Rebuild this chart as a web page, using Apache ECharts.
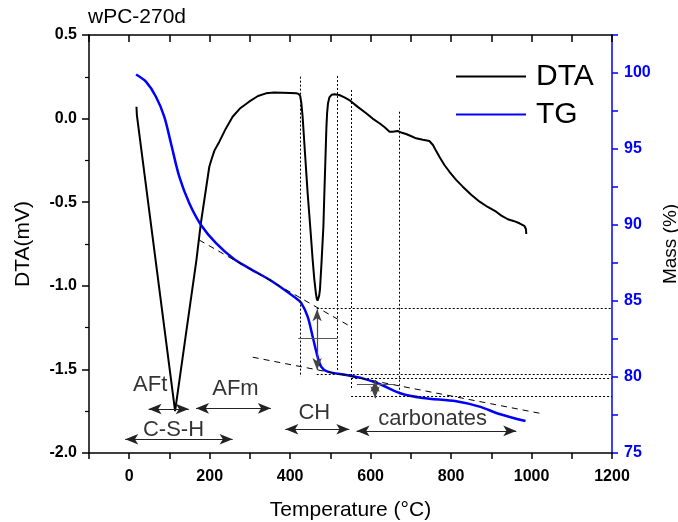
<!DOCTYPE html>
<html><head><meta charset="utf-8">
<script src="https://cdn.jsdelivr.net/npm/echarts@6/dist/echarts.min.js"></script>
<style>html,body{margin:0;padding:0;background:#fff}#c{width:678px;height:522px}</style>
</head><body><div id="c"></div>
<script>
// ---- data ----
const dtaT = [18, 19, 114, 140, 167, 178, 190, 199, 205, 212, 224, 240, 257, 275, 298, 320, 340, 360, 380, 400, 415, 421, 425, 428, 431, 437, 443.5, 450, 456, 460, 464, 466, 468, 470, 472, 474, 478, 482.6, 485, 487.6, 490, 491.8, 494, 497.5, 503, 510, 522, 535, 547, 568, 589, 605, 622, 635, 647, 655, 667, 678, 688, 700, 713, 730, 746, 750, 755, 762, 771, 783, 796, 812, 829, 850, 871, 890, 912, 925, 941, 955, 970, 982, 986, 987];
const dtaV = [0.071, 0.021, -1.749, -1.306, -0.846, -0.626, -0.433, -0.288, -0.24, -0.19, -0.138, -0.06, 0.011, 0.06, 0.101, 0.135, 0.151, 0.156, 0.155, 0.153, 0.151, 0.148, 0.135, 0.09, 0.011, -0.21, -0.447, -0.65, -0.846, -0.96, -1.045, -1.075, -1.089, -1.085, -1.06, -1.025, -0.86, -0.647, -0.45, -0.248, -0.06, 0.032, 0.09, 0.127, 0.142, 0.145, 0.141, 0.127, 0.111, 0.07, 0.032, 0.0, -0.028, -0.052, -0.078, -0.078, -0.074, -0.085, -0.092, -0.104, -0.118, -0.127, -0.134, -0.142, -0.158, -0.19, -0.228, -0.276, -0.318, -0.365, -0.407, -0.455, -0.497, -0.527, -0.557, -0.58, -0.602, -0.612, -0.626, -0.641, -0.66, -0.69];
const tgT = [17, 41.5, 66.4, 87, 103.7, 124.4, 149.3, 178.4, 215.7, 261, 298.5, 356.5, 414.7, 427, 443.5, 456, 466, 477, 493.3, 539, 580, 622, 671.6, 729.6, 812.7, 870.6, 920, 985];
const tgM = [99.9, 99.43, 98.44, 97.13, 95.38, 93.18, 91.43, 90.0, 88.8, 87.74, 87.15, 86.27, 85.18, 84.89, 83.97, 82.65, 81.56, 80.68, 80.35, 80.13, 79.91, 79.54, 78.95, 78.62, 78.4, 78.05, 77.57, 77.1];

// x tick labels shown
const xTickLabels = [0, 200, 400, 600, 800, 1000, 1200];

// annotation texts and arrows (DTA coordinates)
const labelText = ['AFt', 'AFm', 'C-S-H', 'CH', 'carbonates'];
const labelT = [52, 264, 110, 460, 754];
const labelV = [-1.593, -1.617, -1.862, -1.761, -1.797];
const arrowT0 = [48, 166, -10, 388, 565];
const arrowT1 = [148, 352, 257, 547, 962];
const arrowV = [-1.737, -1.733, -1.918, -1.858, -1.868];

// vertical dotted guide lines (DTA coordinates)
const vlineT = [424.6, 516.2, 551.5, 670.4];
const vlineTop = [0.251, 0.255, 0.171, 0.041];
const vlineBot = [-1.544, -1.514, -1.623, -1.665];

// horizontal dotted guide lines (TG coordinates)
const hlineM = [84.54, 80.17, 79.9, 78.72];
const hlineT0 = [466, 466, 551.5, 551.5];
const hlineT1 = [1200, 1200, 1200, 1200];

// dashed tangents (TG coordinates)
const tanT0 = [174, 307], tanM0 = [89.01, 81.3];
const tanT1 = [551.5, 1021], tanM1 = [83.3, 77.61];

// step markers (TG coordinates)
const stepT = [467, 611], stepTop = [84.45, 79.8], stepBot = [80.46, 78.6];
const midM = [82.55, 79.54], midT0 = [420, 566], midT1 = [518, 661];

const FONT = '"Liberation Sans", Arial, sans-serif';

const zip = (a, b) => a.map((v, i) => [v, b[i]]);

const dtaLines = [];
vlineT.forEach((t, i) => dtaLines.push([{coord: [t, vlineTop[i]]}, {coord: [t, vlineBot[i]]}]));

const tgDotted = [];
hlineM.forEach((m, i) => tgDotted.push([{coord: [hlineT0[i], m]}, {coord: [hlineT1[i], m]}]));

const tgDashed = [];
tanT0.forEach((t, i) => tgDashed.push([{coord: [t, tanM0[i]]}, {coord: [tanT1[i], tanM1[i]]}]));

const stepArrows = [];
stepT.forEach((t, i) => stepArrows.push([{coord: [t, stepTop[i]]}, {coord: [t, stepBot[i]]}]));
const midLines = [];
midM.forEach((m, i) => midLines.push([{coord: [midT0[i], m]}, {coord: [midT1[i], m]}]));

const arrows = [];
arrowT0.forEach((t, i) => arrows.push([{coord: [t, arrowV[i]]}, {coord: [arrowT1[i], arrowV[i]]}]));

const chart = echarts.init(document.getElementById('c'), null, {renderer: 'canvas'});
chart.setOption({
  animation: false,
  backgroundColor: '#fff',
  title: {text: 'wPC-270d', left: 83, top: 2, textStyle: {fontFamily: FONT, fontSize: 21, fontWeight: 'normal', color: '#000'}},
  legend: {
    data: [{name: 'DTA', icon: 'rect'}, {name: 'TG', icon: 'rect'}], orient: 'vertical', left: 451, top: 54,
    itemWidth: 70, itemHeight: 2, itemGap: 3,
    textStyle: {fontFamily: FONT, fontSize: 30, color: '#000', lineHeight: 35, padding: [0, 0, 0, 5]}
  },
  grid: {left: 89, right: 66, top: 35, bottom: 69, outerBoundsMode: 'none', containLabel: false},
  xAxis: [{
    type: 'value', position: 'bottom', min: -100, max: 1200, interval: 100,
    axisLine: {show: true, onZero: false, lineStyle: {color: '#000', width: 1.5}},
    axisTick: {show: true, inside: false, length: 6, lineStyle: {color: '#000', width: 1.5}},
    axisLabel: {margin: 16, fontFamily: FONT, fontSize: 16, fontWeight: 'bold', color: '#000',
      formatter: v => xTickLabels.indexOf(v) >= 0 ? String(v) : ''},
    splitLine: {show: false},
    name: 'Temperature (°C)', nameLocation: 'middle', nameGap: 47,
    nameTextStyle: {fontFamily: FONT, fontSize: 21, color: '#000'}
  }, {
    type: 'value', position: 'top', min: -100, max: 1200, interval: 100,
    axisLine: {show: true, onZero: false, lineStyle: {color: '#000', width: 1.5}},
    axisTick: {show: true, inside: true, length: 7, lineStyle: {color: '#000', width: 1.5}},
    axisLabel: {show: false}, splitLine: {show: false}
  }],
  yAxis: [{
    type: 'value', position: 'left', min: -2, max: 0.5, interval: 0.5,
    axisLine: {show: true, onZero: false, lineStyle: {color: '#000', width: 1.5}},
    axisTick: {show: true, inside: false, length: 7, lineStyle: {color: '#000', width: 1.5}},
    minorTick: {show: true, splitNumber: 2, length: 4, lineStyle: {color: '#000', width: 1.2}},
    axisLabel: {margin: 12, fontFamily: FONT, fontSize: 16, fontWeight: 'bold', color: '#000', formatter: v => v.toFixed(1)},
    splitLine: {show: false},
    name: 'DTA(mV)', nameLocation: 'middle', nameGap: 55,
    nameTextStyle: {fontFamily: FONT, fontSize: 21, color: '#000'}
  }, {
    type: 'value', position: 'right', min: 75, max: 102.5, interval: 2.5,
    axisLine: {show: true, onZero: false, lineStyle: {color: '#0000ff', width: 1.5}},
    axisTick: {show: true, inside: false, length: 6, lineStyle: {color: '#0000ff', width: 1.5}},
    axisLabel: {margin: 12, fontFamily: FONT, fontSize: 16, fontWeight: 'bold', color: '#0000ff',
      formatter: v => (Math.abs(v % 5) < 1e-6 ? String(v) : '')},
    splitLine: {show: false},
    name: 'Mass (%)', nameLocation: 'middle', nameGap: 45,
    nameTextStyle: {fontFamily: FONT, fontSize: 19, color: '#000'}
  }],
  series: [{
    name: 'DTA', type: 'line', xAxisIndex: 0, yAxisIndex: 0, data: zip(dtaT, dtaV),
    symbol: 'none', smooth: false, lineStyle: {color: '#000', width: 2}, itemStyle: {color: '#000'}, z: 3,
    markLine: {silent: true, symbol: 'none', label: {show: false}, lineStyle: {type: [2, 2], color: '#000', width: 1}, data: dtaLines}
  }, {
    name: 'TG', type: 'line', xAxisIndex: 0, yAxisIndex: 1, data: zip(tgT, tgM),
    symbol: 'none', smooth: 0.3, lineStyle: {color: '#0000ff', width: 2.5}, itemStyle: {color: '#0000ff'}, z: 4,
    markLine: {silent: true, symbol: 'none', label: {show: false}, lineStyle: {type: [2, 2], color: '#000', width: 1}, data: tgDotted}
  }, {
    name: 'tangents', type: 'line', xAxisIndex: 0, yAxisIndex: 1, data: [],
    markLine: {silent: true, symbol: 'none', label: {show: false}, lineStyle: {type: [6, 5], color: '#000', width: 1}, data: tgDashed}
  }, {
    name: 'steps', type: 'line', xAxisIndex: 0, yAxisIndex: 1, data: [],
    markLine: {silent: true, symbol: ['arrow', 'arrow'], symbolSize: [7, 12], label: {show: false}, lineStyle: {type: 'solid', color: '#444', width: 1.2}, itemStyle: {color: '#000'}, data: stepArrows}
  }, {
    name: 'mids', type: 'line', xAxisIndex: 0, yAxisIndex: 1, data: [],
    markLine: {silent: true, symbol: 'none', label: {show: false}, lineStyle: {type: 'solid', color: '#555', width: 1.2}, data: midLines}
  }, {
    name: 'arrows', type: 'line', xAxisIndex: 0, yAxisIndex: 0, data: [],
    markLine: {silent: true, symbol: ['arrow', 'arrow'], symbolSize: [8, 13], label: {show: false}, lineStyle: {type: 'solid', color: '#222', width: 1.2}, itemStyle: {color: '#000'}, data: arrows}
  }, {
    name: 'labels', type: 'scatter', xAxisIndex: 0, yAxisIndex: 0, symbolSize: 0, silent: true,
    data: labelText.map((t, i) => ({name: t, value: [labelT[i], labelV[i]]})),
    label: {show: true, position: 'inside', formatter: p => p.name, fontFamily: FONT, fontSize: 22, color: '#000'}
  }]
});
</script></body></html>
